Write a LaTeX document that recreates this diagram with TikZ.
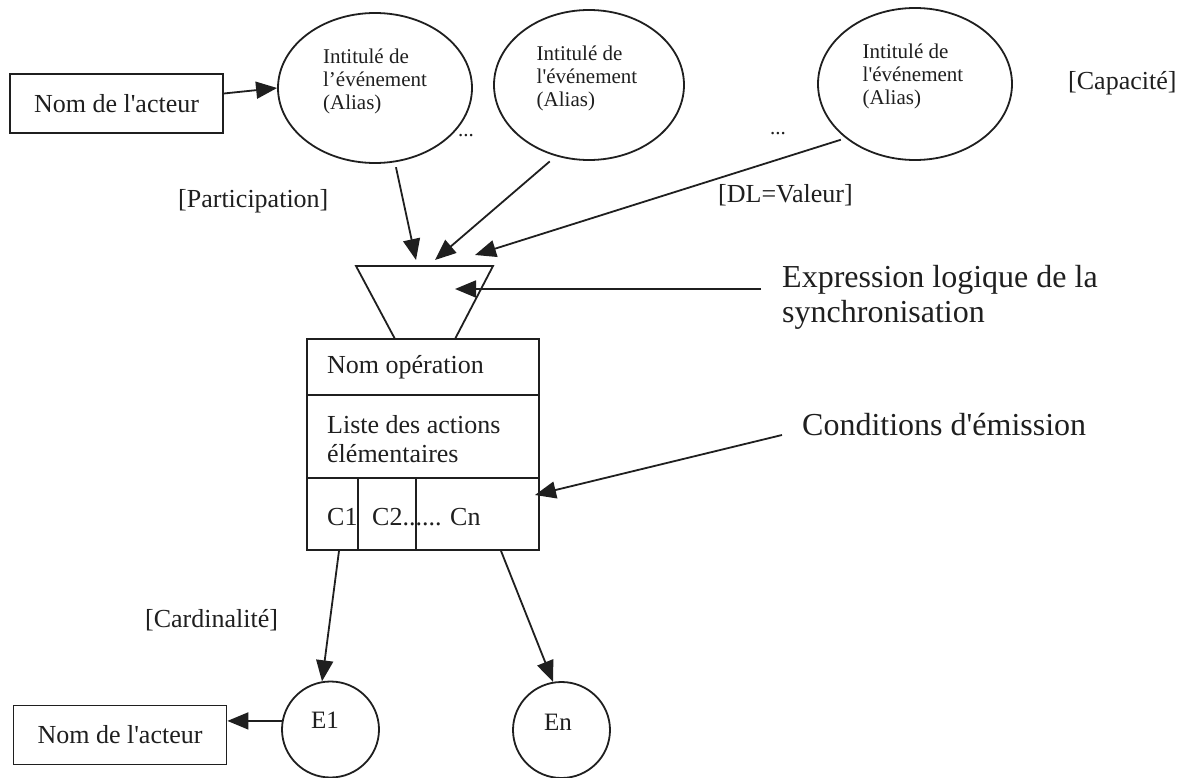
\documentclass[tikz,border=0pt]{standalone}
\usepackage{fontspec}
\setmainfont{Liberation Serif}
\usetikzlibrary{arrows.meta,shapes.geometric}
\definecolor{ink}{gray}{0.12}
\newcommand{\sq}{\textquotesingle}

\tikzset{
  ln/.style={line width=1.8pt, draw=ink},
  arr/.style={ln, -{Triangle[length=21pt,width=17pt]}},
  actor/.style={ln, rectangle, minimum width=213pt, minimum height=59pt, inner sep=0pt,
                font=\fontsize{26}{29}\selectfont, text=ink},
  evt/.style={ln, ellipse, inner sep=0pt},
  evttext/.style={align=left, inner sep=0pt, font=\fontsize{21}{23}\selectfont, text=ink},
  dots/.style={anchor=base, inner sep=0pt, font=\fontsize{21}{23}\selectfont, text=ink},
  lbl/.style={anchor=base west, inner sep=0pt, font=\fontsize{26}{29}\selectfont, text=ink},
  lbltwo/.style={anchor=north west, align=left, inner sep=0pt, font=\fontsize{26}{29}\selectfont, text=ink},
  ename/.style={anchor=base, inner sep=0pt, font=\fontsize{25}{28}\selectfont, text=ink},
  big/.style={inner sep=0pt, align=left, font=\fontsize{32}{35}\selectfont, text=ink},
}

\begin{document}
\begin{tikzpicture}[x=1pt,y=-1pt]
\useasboundingbox (0,0) rectangle (1187,778);
\fill[white] (0,0) rectangle (1187,778);

% actor and triggering events
\node[actor] (tl) at (116.5,103.5) {Nom de l\sq acteur};
\node[evt, minimum width=194pt, minimum height=150pt] (e1) at (375,88) {};
\node[evt, minimum width=190pt, minimum height=150pt] (e2) at (589,85) {};
\node[evt, minimum width=194pt, minimum height=152pt] (e3) at (915,84) {};
\node[evttext] (t1) at (375,81) {Intitulé de\\l’événement\\(Alias)};
\node[evttext] (t2) at (587,78) {Intitulé de\\l\sq événement\\(Alias)};
\node[evttext] (t3) at (913,76) {Intitulé de\\l\sq événement\\(Alias)};
\node[dots] (d1) at (466,137) {...};
\node[dots] (d2) at (778,135) {...};

% annotations
\node[lbl] (lpart) at (178,208) {[Participation]};
\node[lbl] (ldl) at (718,203) {[DL=Valeur]};
\node[lbl] (lcap) at (1068,90) {[Capacité]};
\node[lbl] (lcard) at (145,627) {[Cardinalité]};
\node[big, anchor=north west] (expr) at (782,265) {Expression logique de la\\synchronisation};
\node[big, anchor=base west] (cond) at (802,435) {Conditions d\sq émission};

% synchronisation funnel
\draw[ln, line join=miter] (395,339) -- (356,266) -- (493,266) -- (455,339);

% operation box
\node[ln, rectangle, minimum width=232pt, minimum height=211pt, inner sep=0pt] (op) at (423,444.5) {};
\draw[ln] (307,395) -- (539,395);
\draw[ln] (307,478) -- (539,478);
\draw[ln] (358,478) -- (358,550);
\draw[ln] (416,478) -- (416,550);
\node[lbl] (opname) at (327,373) {Nom opération};
\node[lbltwo] (oplist) at (327,415) {Liste des actions\\élémentaires};
\node[lbl] (c1) at (327,525) {C1};
\node[lbl] (cn) at (372,525) {C2...... Cn};

% emitted events
\node[evt, minimum width=97pt, minimum height=96pt] (o1) at (330.5,729.5) {};
\node[evt, minimum width=97pt, minimum height=96pt] (on) at (561.5,730) {};
\node[ename] (o1t) at (325,728) {E1};
\node[ename] (ont) at (558,730) {En};
\node[actor] (bl) at (120,735) {Nom de l\sq acteur};

% arrow ends
\coordinate (tip1) at (416,260);
\coordinate (tip2) at (435,260);
\coordinate (tip3) at (475,255);
\coordinate (synctip) at (455,289);
\coordinate (condtip) at (535,495);
\coordinate (exprtail) at ([xshift=-21pt]expr.west);

% connectors
\draw[arr] ([yshift=10pt]tl.east) -- (e1.west);
\draw[arr, shorten <=5pt] (e1.-75) -- (tip1);
\draw[arr, shorten <=8pt] (e2.245) -- (tip2);
\draw[arr, shorten <=5pt] (e3.218) -- (tip3);
\draw[arr] (exprtail |- synctip) -- (synctip);
\draw[arr] ([xshift=-20pt]cond.base west) -- (condtip);
\draw[arr] ([xshift=-84pt]op.south) -- (o1.100);
\draw[arr] ([xshift=78pt]op.south) -- (on.100);
\draw[arr] (o1.170) -- (bl.east |- o1.170);
\end{tikzpicture}
\end{document}
